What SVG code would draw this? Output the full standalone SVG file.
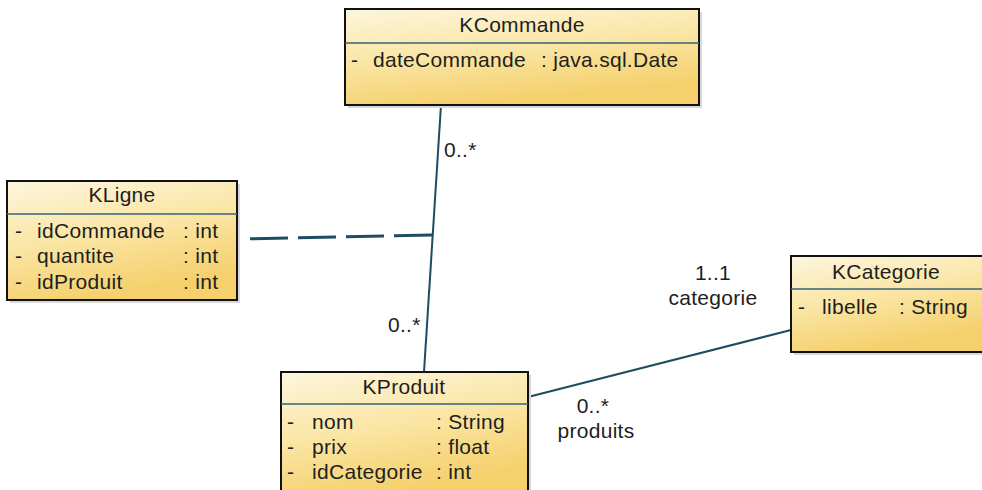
<svg xmlns="http://www.w3.org/2000/svg" width="982" height="490" viewBox="0 0 982 490">
<defs>
<linearGradient id="fillg" x1="0" y1="0" x2="0.35" y2="1">
<stop offset="0" stop-color="#fdf6de"/>
<stop offset="0.5" stop-color="#fae6a6"/>
<stop offset="1" stop-color="#f5d06c"/>
</linearGradient>
<style>
.box{fill:url(#fillg);stroke:#111;stroke-width:2}
.shadow{fill:#d8d8d8}
.div{stroke:#36627a;stroke-width:1.5}
text{font-family:"Liberation Sans",Arial,sans-serif;font-size:21px;letter-spacing:0.3px;fill:#1e1e1e}
.hd{text-anchor:middle}
.mid{text-anchor:middle}
.conn{stroke:#1d4c63;stroke-width:2;fill:none}
.dash{stroke:#1d4c63;stroke-width:3;fill:none;stroke-dasharray:38 10}
</style>
</defs>
<rect width="982" height="490" fill="#ffffff"/>
<g id="connectors">
<line class="conn" x1="441" y1="105" x2="424" y2="372"/>
<line class="dash" x1="432" y1="235" x2="238" y2="239"/>
<line class="conn" x1="528" y1="397" x2="791" y2="330"/>
<text x="444" y="157">0..*</text>
<text x="388" y="332">0..*</text>
<text class="mid" x="713" y="280">1..1</text>
<text class="mid" x="713" y="305">categorie</text>
<text class="mid" x="593" y="413">0..*</text>
<text class="mid" x="596" y="438">produits</text>
</g>
<g id="KCommande">
<rect class="shadow" x="348" y="12" width="354" height="96"/>
<rect class="box" x="345" y="9" width="354" height="96"/>
<line class="div" x1="345" y1="43" x2="699" y2="43"/>
<text class="hd" x="522" y="32">KCommande</text>
<text x="351" y="67">-</text>
<text x="373" y="67">dateCommande</text>
<text x="541" y="67">: java.sql.Date</text>
</g>
<g id="KLigne">
<rect class="shadow" x="10" y="184" width="230" height="119"/>
<rect class="box" x="7" y="181" width="230" height="119"/>
<line class="div" x1="7" y1="214" x2="237" y2="214"/>
<text class="hd" x="122" y="202">KLigne</text>
<text x="15" y="238">-</text>
<text x="37" y="238">idCommande</text>
<text x="183" y="238">: int</text>
<text x="15" y="263">-</text>
<text x="37" y="263">quantite</text>
<text x="183" y="263">: int</text>
<text x="15" y="289">-</text>
<text x="37" y="289">idProduit</text>
<text x="183" y="289">: int</text>
</g>
<g id="KProduit">
<rect class="shadow" x="284" y="375" width="247" height="125"/>
<rect class="box" x="281" y="372" width="247" height="125"/>
<line class="div" x1="281" y1="404" x2="528" y2="404"/>
<text class="hd" x="404" y="394">KProduit</text>
<text x="287" y="429">-</text>
<text x="312" y="429">nom</text>
<text x="436" y="429">: String</text>
<text x="287" y="454">-</text>
<text x="312" y="454">prix</text>
<text x="436" y="454">: float</text>
<text x="287" y="479">-</text>
<text x="312" y="479">idCategorie</text>
<text x="436" y="479">: int</text>
</g>
<g id="KCategorie">
<rect class="shadow" x="794" y="259" width="195" height="96"/>
<rect class="box" x="791" y="256" width="195" height="96"/>
<line class="div" x1="791" y1="289" x2="982" y2="289"/>
<text class="hd" x="886" y="279">KCategorie</text>
<text x="798" y="314">-</text>
<text x="822" y="314">libelle</text>
<text x="899" y="314">: String</text>
</g>
</svg>
